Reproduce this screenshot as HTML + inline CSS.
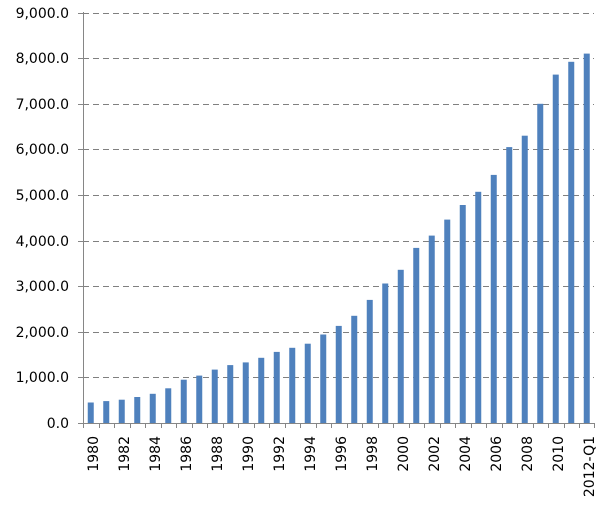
<!DOCTYPE html>
<html><head><style>body{margin:0;background:#fff}svg{display:block}</style></head>
<body>
<svg width="600" height="505" xmlns="http://www.w3.org/2000/svg" font-family="DejaVu Sans, sans-serif" font-size="14" fill="#000">
<g stroke="#808080" stroke-dasharray="6,4" stroke-width="1">
<line x1="83" x2="594" y1="377.5" y2="377.5"/><line x1="83" x2="594" y1="332.5" y2="332.5"/>
<line x1="83" x2="594" y1="286.5" y2="286.5"/><line x1="83" x2="594" y1="241.5" y2="241.5"/>
<line x1="83" x2="594" y1="195.5" y2="195.5"/><line x1="83" x2="594" y1="149.5" y2="149.5"/>
<line x1="83" x2="594" y1="104.5" y2="104.5"/><line x1="83" x2="594" y1="58.5" y2="58.5"/>
<line x1="83" x2="594" y1="13.5" y2="13.5"/>
</g>
<g fill="#4f81bd">
<rect x="87.75" y="402.5" width="6" height="20.5"/>
<rect x="103.25" y="401.1" width="6" height="21.9"/>
<rect x="118.75" y="399.7" width="6" height="23.3"/>
<rect x="134.25" y="397" width="6" height="26"/>
<rect x="149.75" y="393.8" width="6" height="29.2"/>
<rect x="165.25" y="388.3" width="6" height="34.7"/>
<rect x="180.75" y="379.7" width="6" height="43.3"/>
<rect x="196.25" y="375.6" width="6" height="47.4"/>
<rect x="211.75" y="369.6" width="6" height="53.4"/>
<rect x="227.25" y="365.1" width="6" height="57.9"/>
<rect x="242.75" y="362.4" width="6" height="60.6"/>
<rect x="258.25" y="357.8" width="6" height="65.2"/>
<rect x="273.75" y="351.9" width="6" height="71.1"/>
<rect x="289.25" y="347.8" width="6" height="75.2"/>
<rect x="304.75" y="343.7" width="6" height="79.3"/>
<rect x="320.25" y="334.5" width="6" height="88.5"/>
<rect x="335.75" y="325.9" width="6" height="97.1"/>
<rect x="351.25" y="315.8" width="6" height="107.2"/>
<rect x="366.75" y="299.9" width="6" height="123.1"/>
<rect x="382.25" y="283.5" width="6" height="139.5"/>
<rect x="397.75" y="269.8" width="6" height="153.2"/>
<rect x="413.25" y="247.9" width="6" height="175.1"/>
<rect x="428.75" y="235.6" width="6" height="187.4"/>
<rect x="444.25" y="219.6" width="6" height="203.4"/>
<rect x="459.75" y="205" width="6" height="218"/>
<rect x="475.25" y="191.8" width="6" height="231.2"/>
<rect x="490.75" y="174.9" width="6" height="248.1"/>
<rect x="506.25" y="147.1" width="6" height="275.9"/>
<rect x="521.75" y="135.7" width="6" height="287.3"/>
<rect x="537.25" y="103.8" width="6" height="319.2"/>
<rect x="552.75" y="74.6" width="6" height="348.4"/>
<rect x="568.25" y="61.8" width="6" height="361.2"/>
<rect x="583.75" y="53.6" width="6" height="369.4"/>
</g>
<g stroke="#868686" stroke-width="1">
<line x1="83.5" x2="83.5" y1="12" y2="423"/>
<line x1="83" x2="594" y1="423.5" y2="423.5"/>
<path d="M78 423.5H83M78 377.5H83M78 332.5H83M78 286.5H83M78 241.5H83M78 195.5H83M78 149.5H83M78 104.5H83M78 58.5H83M78 13.5H83"/>
<path d="M83.5 423v5M99.5 423v5M114.5 423v5M130.5 423v5M145.5 423v5M161.5 423v5M176.5 423v5M192.5 423v5M207.5 423v5M223.5 423v5M238.5 423v5M254.5 423v5M269.5 423v5M285.5 423v5M300.5 423v5M316.5 423v5M331.5 423v5M347.5 423v5M362.5 423v5M378.5 423v5M393.5 423v5M409.5 423v5M424.5 423v5M440.5 423v5M455.5 423v5M471.5 423v5M486.5 423v5M502.5 423v5M517.5 423v5M533.5 423v5M548.5 423v5M564.5 423v5M579.5 423v5M594.5 423v5"/>
</g>
<g text-anchor="end">
<text x="69" y="428">0.0</text><text x="69" y="382">1,000.0</text><text x="69" y="337">2,000.0</text>
<text x="69" y="291">3,000.0</text><text x="69" y="246">4,000.0</text><text x="69" y="200">5,000.0</text>
<text x="69" y="154">6,000.0</text><text x="69" y="109">7,000.0</text><text x="69" y="63">8,000.0</text>
<text x="69" y="18">9,000.0</text>
</g>
<g text-anchor="end">
<text transform="translate(97.75,436) rotate(-90)">1980</text>
<text transform="translate(128.75,436) rotate(-90)">1982</text>
<text transform="translate(159.75,436) rotate(-90)">1984</text>
<text transform="translate(190.75,436) rotate(-90)">1986</text>
<text transform="translate(221.75,436) rotate(-90)">1988</text>
<text transform="translate(252.75,436) rotate(-90)">1990</text>
<text transform="translate(283.75,436) rotate(-90)">1992</text>
<text transform="translate(314.75,436) rotate(-90)">1994</text>
<text transform="translate(345.75,436) rotate(-90)">1996</text>
<text transform="translate(376.75,436) rotate(-90)">1998</text>
<text transform="translate(407.75,436) rotate(-90)">2000</text>
<text transform="translate(438.75,436) rotate(-90)">2002</text>
<text transform="translate(469.75,436) rotate(-90)">2004</text>
<text transform="translate(500.75,436) rotate(-90)">2006</text>
<text transform="translate(531.75,436) rotate(-90)">2008</text>
<text transform="translate(562.75,436) rotate(-90)">2010</text>
<text transform="translate(593.75,436) rotate(-90)">2012-Q1</text>
</g>
</svg>
</body></html>
